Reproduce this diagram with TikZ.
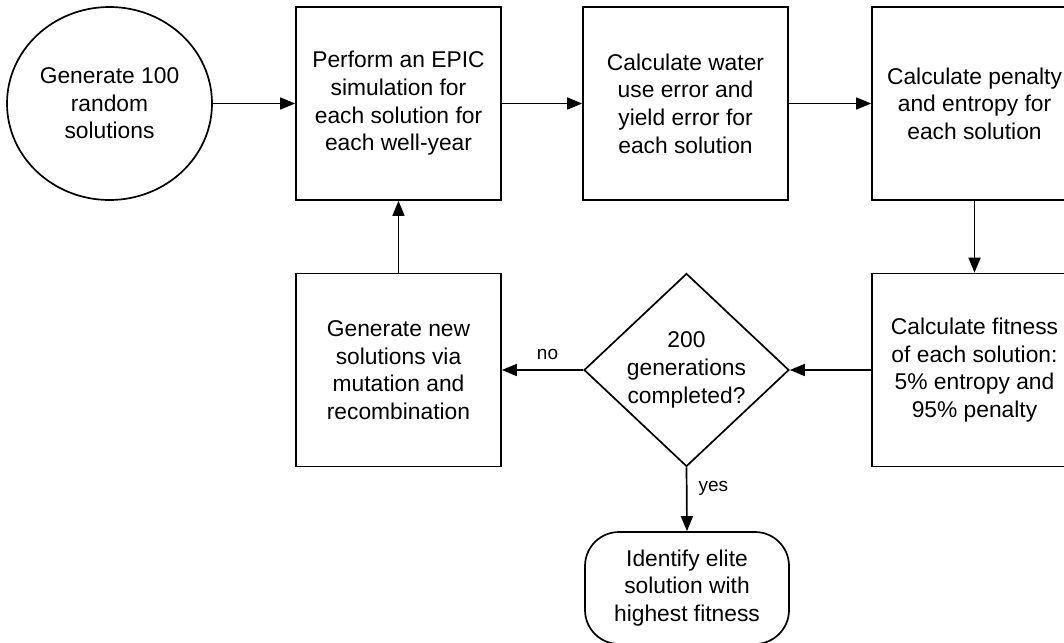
\documentclass[tikz,border=0pt]{standalone}
\usepackage{fontspec}
\setmainfont{Liberation Sans}
\usetikzlibrary{shapes.geometric,arrows.meta}
\begin{document}
\begin{tikzpicture}[x=1pt,y=-1pt,
  every node/.style={font=\fontsize{22.8}{27.6}\selectfont},
  blk/.style={draw, line width=1.7pt, rectangle, minimum width=205pt, minimum height=193pt, inner sep=0pt, align=center},
  startnode/.style={draw, line width=1.7pt, ellipse, minimum width=205pt, minimum height=193pt, inner sep=0pt, align=center},
  decnode/.style={draw, line width=1.7pt, diamond, minimum width=205pt, minimum height=193pt, inner sep=0pt},
  txt/.style={align=center, inner sep=0pt},
  endnode/.style={draw, line width=1.7pt, rectangle, rounded corners=34pt, minimum width=204pt, minimum height=112pt, inner sep=0pt, align=center},
  conn/.style={line width=1.7pt, -{Triangle[length=15pt,width=12pt]}},
  lbl/.style={font=\fontsize{19}{22}\selectfont, inner sep=0pt}
]
\useasboundingbox (0,0) rectangle (1064,642);
\clip (0,0) rectangle (1064,642);

\node[startnode] (gen) at (109.5,103.5) {Generate 100\\random\\solutions};
\node[blk] (epic) at (398.5,103.5) {Perform an EPIC\\simulation for\\each solution for\\each well-year};
\node[blk] (water) at (685.5,103.5) {Calculate water\\use error and\\yield error for\\each solution};
\node[blk] (pen) at (974.5,103.5) {Calculate penalty\\and entropy for\\each solution};
\node[blk] (fit) at (974.5,370) {Calculate fitness\\of each solution:\\5\% entropy and\\95\% penalty};
\node[decnode] (dec) at (686.5,370) {};
\node[txt] (dectext) at (dec.center) {200\\generations\\completed?};
\node[blk] (newsol) at (398.5,370) {Generate new\\solutions via\\mutation and\\recombination};
\node[endnode] (elite) at (687,588) {Identify elite\\solution with\\highest fitness};

\draw[conn] (gen) -- (epic);
\draw[conn] (epic) -- (water);
\draw[conn] (water) -- (pen);
\draw[conn] (pen) -- (fit);
\draw[conn] (fit) -- (dec);
\draw[conn] (dec.west) -- node[lbl, above, yshift=9pt, xshift=5pt] (nolbl) {no} (newsol.east);
\draw[conn] (newsol) -- (epic);
\draw[conn] (dec.south) -- node[lbl, right, xshift=11pt, yshift=11pt] (yeslbl) {yes} (elite.north);
\end{tikzpicture}
\end{document}
